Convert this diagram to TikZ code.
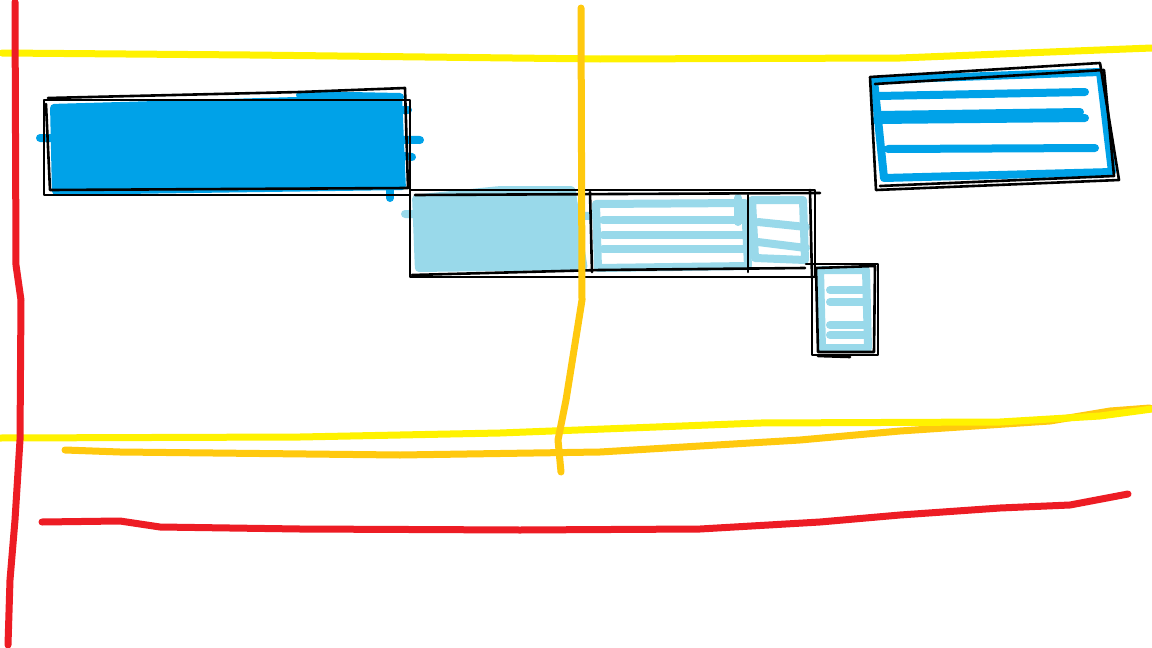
\documentclass[tikz,border=0pt]{standalone}
\usepackage{tikz}
\usepackage{xcolor}

\definecolor{pRed}{HTML}{ED1C24}
\definecolor{pYellow}{HTML}{FFF200}
\definecolor{pOrange}{HTML}{FFC90E}
\definecolor{pBlue}{HTML}{00A2E8}
\definecolor{pLight}{HTML}{99D9EA}

\begin{document}
\begin{tikzpicture}[x=1pt, y=-1pt, line cap=round, line join=round,
  pen/.style={line width=2.6pt, black},
  marker/.style={line width=7pt},
  stroke/.style={line width=8pt}]
  \useasboundingbox[fill=white] (0,0) rectangle (1152,648);

  %coordinates
  \coordinate (BlueNW)  at (44,100);
  \coordinate (BlueSE)  at (410,195);
  \coordinate (BarNW)   at (410,190);
  \coordinate (BarSE)   at (815,277);
  \coordinate (SmallNW) at (812,264);
  \coordinate (SmallSE) at (878,355);

  %dark blue box
  \fill[pBlue, rounded corners=4pt] (50,104) -- (402,94) -- (406,190) -- (52,195) -- cycle;
  \draw[pBlue, stroke] (40,138) -- (420,140);
  \draw[pBlue, stroke] (395,110) -- (408,110);
  \draw[pBlue, stroke] (395,155) -- (412,157);
  \draw[pBlue, stroke] (390,170) -- (390,198);
  \draw[pBlue, stroke] (300,95) -- (400,97);
  \draw[pen] (BlueNW) -- (BlueNW -| BlueSE) -- (BlueSE) -- (BlueNW |- BlueSE) -- cycle;
  \draw[pen] (48,98) -- (300,92) -- (405,88) -- (408,188) -- (50,190) -- (46,104);

  %light blue bar
  \fill[pLight, rounded corners=4pt] (412,195) -- (500,186) -- (575,186) -- (588,270) -- (415,272) -- cycle;
  \draw[pLight, stroke] (405,214) -- (590,216);
  \draw[pLight, stroke] (596,204) -- (745,203) -- (748,266) -- (598,268) -- cycle;
  \foreach \yy in {220,235,249} {
    \draw[pLight, stroke] (603,\yy) -- (745,\yy);
  }
  \draw[pLight, stroke] (752,200) -- (803,200) -- (805,260) -- (755,258) -- cycle;
  \draw[pLight, stroke] (738,198) -- (738,222);
  \draw[pLight, stroke] (758,222) -- (806,227);
  \draw[pLight, stroke] (758,242) -- (806,248);
  \draw[pen] (BarNW) -- (BarNW -| BarSE) -- (BarSE) -- (BarNW |- BarSE) -- cycle;
  \draw[pen] (415,195) -- (820,193);
  \draw[pen] (412,275) -- (600,270) -- (805,268);
  \draw[pen] (590,192) -- (592,272);
  \draw[pen] (748,195) -- (748,272);
  \draw[pen] (810,190) -- (812,278);

  %small box
  \draw[pLight, stroke] (820,270) -- (866,270) -- (868,348) -- (822,348) -- cycle;
  \foreach \yy in {290,302,325,335} {
    \draw[pLight, stroke] (830,\yy) -- (864,\yy);
  }
  \draw[pen] (SmallNW) -- (SmallNW -| SmallSE) -- (SmallSE) -- (SmallNW |- SmallSE) -- cycle;
  \draw[pen] (816,268) -- (875,266) -- (874,352) -- (818,352) -- cycle;
  \draw[pen] (806,264) -- (820,264);
  \draw[pen] (818,356) -- (850,357);

  %dark blue outline box
  \draw[pBlue, stroke] (874,80) -- (1100,72) -- (1112,172) -- (884,178) -- cycle;
  \draw[pBlue, stroke] (878,96) -- (1085,92);
  \draw[pBlue, stroke] (875,120) -- (1085,118);
  \draw[pBlue, stroke] (878,115) -- (1080,112);
  \draw[pBlue, stroke] (888,149) -- (1095,148);
  \draw[pen] (870,77) -- (1100,63) -- (1119,180) -- (876,190) -- cycle;
  \draw[pen] (875,84) -- (1104,70) -- (1114,176) -- (880,186);

  %guide lines
  \draw[pYellow, marker] (2,53) -- (250,55) -- (600,59) -- (900,58) -- (1100,50) -- (1152,48);
  \draw[pOrange, marker] (65,450) -- (120,452) -- (400,455) -- (600,452) -- (800,440) -- (900,431) -- (1050,421) -- (1110,411) -- (1150,408);
  \draw[pYellow, marker] (0,438) -- (300,437) -- (500,433) -- (760,423) -- (1000,422) -- (1100,416) -- (1152,409);
  \draw[pOrange, marker] (581,8) -- (582,300) -- (574,350) -- (566,400) -- (558,440) -- (561,472);
  \draw[pRed, marker] (15,2) -- (16,265) -- (21,300) -- (20,440) -- (15,520) -- (10,580) -- (8,645);
  \draw[pRed, marker] (42,522) -- (120,521) -- (160,527) -- (300,529) -- (520,530) -- (700,529) -- (820,522) -- (900,515) -- (1000,508) -- (1070,505) -- (1128,494);

\end{tikzpicture}
\end{document}
